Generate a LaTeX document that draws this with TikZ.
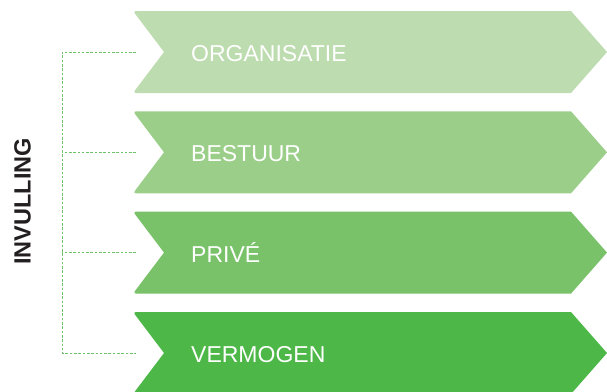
\documentclass[tikz,border=0pt]{standalone}
\usepackage{fontspec}
\setmainfont{Liberation Sans}
\usetikzlibrary{positioning}
\definecolor{orgGreen}{HTML}{BDDCAF}
\definecolor{bestGreen}{HTML}{9BCF89}
\definecolor{priveGreen}{HTML}{79C26A}
\definecolor{vermGreen}{HTML}{4DB848}
\definecolor{lineGreen}{HTML}{6CC36A}
\definecolor{darkText}{HTML}{231F20}

\begin{document}
\begin{tikzpicture}[x=1pt, y=-1pt,
  stage/.style={text=white, font=\fontsize{23}{27}\selectfont, anchor=base west, inner sep=0pt},
  bracket/.style={draw=lineGreen, line width=0.9pt, dash pattern=on 2.6pt off 1.7pt}]
\useasboundingbox (0,0) rectangle (607,391);
% chevrons with their labels
\foreach \y/\col/\name/\txt in {11/orgGreen/org/ORGANISATIE, 111.3/bestGreen/best/BESTUUR, 211.6/priveGreen/prive/PRIV\'E, 312/vermGreen/verm/VERMOGEN} {
  \fill [\col] (164,\y+41) [rounded corners=3pt] -- (133,\y) [sharp corners] -- (571,\y) -- (607,\y+41) -- (571,\y+82) [rounded corners=3pt] -- (133,\y+82) [sharp corners] -- cycle;
  \node [stage] (\name) at (191,\y+50.5) {\txt};
  \coordinate (\name-in) at (136,\y+41);
}
\coordinate (spine) at (62,0);
\node [rotate=90, font=\bfseries\fontsize{23.5}{27}\selectfont, text=darkText] (invulling) at (22.5,201.5) {INVULLING};
% dashed bracket
\draw [bracket] (org-in) -- (org-in -| spine) -- (verm-in -| spine) -- (verm-in);
\draw [bracket] (best-in) -- (best-in -| spine);
\draw [bracket] (prive-in) -- (prive-in -| spine);
\end{tikzpicture}
\end{document}
